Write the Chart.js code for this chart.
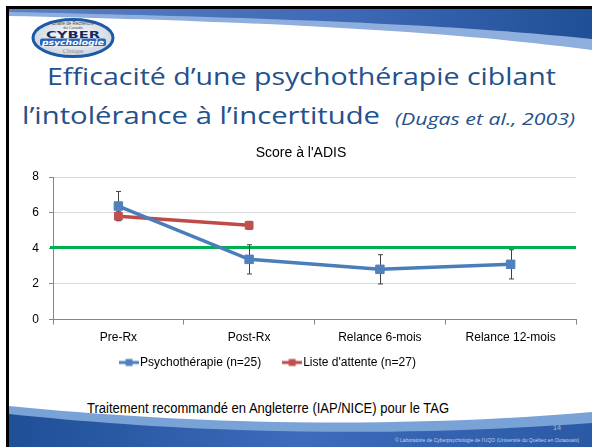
<!DOCTYPE html>
<html>
<head>
<meta charset="utf-8">
<script src="https://cdn.jsdelivr.net/npm/chart.js@4.4.1/dist/chart.umd.min.js"></script>
<style>
  html, body { margin: 0; padding: 0; background: #fff; }
  #slide { position: relative; width: 592px; height: 447px; overflow: hidden; background: #fff; }
  #deco { position: absolute; left: 0; top: 0; }
  #wrap { position: absolute; left: 0; top: 130px; width: 592px; height: 269px; }
</style>
</head>
<body>
<div id="slide">
  <svg id="deco" width="592" height="447" xmlns="http://www.w3.org/2000/svg">
    <defs>
      <linearGradient id="topDark" x1="0" y1="0" x2="1" y2="0">
        <stop offset="0" stop-color="#5b80c6"/>
        <stop offset="0.6" stop-color="#3d68b4"/>
        <stop offset="1" stop-color="#1f4f97"/>
      </linearGradient>
      <linearGradient id="botDark" x1="0" y1="0" x2="1" y2="0">
        <stop offset="0" stop-color="#1f4f97"/>
        <stop offset="0.5" stop-color="#3e6bbb"/>
        <stop offset="1" stop-color="#2a5aa6"/>
      </linearGradient>
      <radialGradient id="logoFill" cx="50%" cy="45%" r="60%">
        <stop offset="0" stop-color="#ffffff"/>
        <stop offset="1" stop-color="#c7d0de"/>
      </radialGradient>
    </defs>

    <!-- slide frame -->
    <rect x="6" y="6" width="586" height="3" fill="#000"/>
    <rect x="6" y="6" width="3" height="441" fill="#000"/>

    <!-- top swoosh -->
    <path d="M9,9 L592,9 L592,50 C470,34 300,22 9,16 Z" fill="#8eaedd"/>
    <path d="M9,9 L592,9 L592,39 C470,26 300,18 9,12 Z" fill="url(#topDark)"/>

    <!-- bottom swoosh -->
    <path d="M9,406 C150,420 360,432 592,412 L592,447 L9,447 Z" fill="#79a2d6"/>
    <path d="M9,414 C160,430 360,440 592,423 L592,447 L9,447 Z" fill="url(#botDark)"/>

    <!-- logo -->
    <ellipse cx="73" cy="38" rx="40" ry="18.5" fill="url(#logoFill)" stroke="#1d5aa6" stroke-width="3"/>
    <text x="73" y="25" font-family="Liberation Sans" font-size="4.5" fill="#4a4a4a" text-anchor="middle">Chaire de Recherche</text>
    <text x="73" y="29" font-family="Liberation Sans" font-size="4" fill="#4a4a4a" text-anchor="middle">du Canada</text>
    <text x="73" y="37.5" font-family="DejaVu Sans" font-weight="bold" font-size="9.5" fill="#17295c" text-anchor="middle" textLength="54" lengthAdjust="spacingAndGlyphs">CYBER</text>
    <rect x="40" y="38.5" width="66" height="7.5" rx="2" fill="#2c63b5"/>
    <text x="73" y="44.8" font-family="DejaVu Sans" font-style="italic" font-weight="bold" font-size="7.5" fill="#fff" text-anchor="middle" textLength="62" lengthAdjust="spacingAndGlyphs">psychologie</text>
    <text x="73" y="53" font-family="Liberation Serif" font-size="6" fill="#8a8a8a" text-anchor="middle">Clinique</text>

    <!-- slide title -->
    <text x="47" y="85" font-family="Open Sans" font-size="24" fill="#24508b" textLength="509" lengthAdjust="spacingAndGlyphs">Efficacité d’une psychothérapie ciblant</text>
    <text x="22" y="124" font-family="Open Sans" font-size="24" fill="#24508b" textLength="358" lengthAdjust="spacingAndGlyphs">l’intolérance à l’incertitude</text>
    <text x="395" y="125" font-family="Open Sans" font-style="italic" font-size="17" fill="#24508b" textLength="180" lengthAdjust="spacingAndGlyphs">(Dugas et al., 2003)</text>

    <!-- footer -->
    <text x="268" y="413" font-family="Liberation Sans" font-size="14" fill="#000" text-anchor="middle" textLength="362" lengthAdjust="spacingAndGlyphs">Traitement recommandé en Angleterre (IAP/NICE) pour le TAG</text>
    <text x="557" y="430" font-family="Liberation Sans" font-weight="bold" font-size="7" fill="#8fa3bd" text-anchor="middle">14</text>
    <text x="395" y="442" font-family="Liberation Sans" font-size="5" fill="#c2d3ec">© Laboratoire de Cyberpsychologie de l'UQO (Université du Québec en Outaouais)</text>
  </svg>
  <div id="wrap"><canvas id="adis"></canvas></div>
</div>

<script>
// values
const categories = ["Pre-Rx", "Post-Rx", "Relance 6-mois", "Relance 12-mois"];
const psychoScores = [6.37, 3.38, 2.82, 3.1];
const psychoErrors = [0.82, 0.82, 0.82, 0.82];
const waitScores = [5.8, 5.29, null, null];
const waitErrors = [0.25, 0.22, null, null];
const yTicks = [0, 2, 4, 6, 8];
const cutoff = 4.05; // green line (seuil clinique)

const BLUE_LINE = "#4a7ebb", BLUE_MARK = "#4f81bd";
const RED_LINE = "#be4b48", RED_MARK = "#c0504d";

Chart.defaults.font.family = '"Liberation Sans", Arial, sans-serif';
Chart.defaults.color = "#000";

// little line+square swatch, like the Excel legend
function legendMark(line, fill) {
  const c = document.createElement("canvas");
  c.width = 20;
  c.height = 10;
  const g = c.getContext("2d");
  g.fillStyle = line;
  g.fillRect(0, 3.5, 20, 3);
  g.fillStyle = fill;
  g.fillRect(6.5, 1.5, 7, 7);
  return c;
}
const marks = [legendMark(BLUE_LINE, BLUE_MARK), legendMark(RED_LINE, RED_MARK)];

const errorSets = [psychoErrors, waitErrors];

const extras = {
  id: "extras",
  afterLayout(chart) {
    // legend sits a bit left of centre and tight under the axis labels
    const lg = chart.legend;
    lg.left -= 31;
    lg.right -= 31;
    lg.top -= 20.5;
    lg.bottom -= 20.5;
  },
  beforeDatasetsDraw(chart) {
    const { ctx, chartArea, scales: { x, y } } = chart;
    ctx.save();
    // green threshold line
    const gy = y.getPixelForValue(cutoff);
    ctx.strokeStyle = "#00b050";
    ctx.lineWidth = 3;
    ctx.beginPath();
    ctx.moveTo(chartArea.left - 3, gy);
    ctx.lineTo(chartArea.right, gy);
    ctx.stroke();

    // error bars
    ctx.strokeStyle = "#404040";
    ctx.lineWidth = 1;
    chart.data.datasets.forEach((ds, di) => {
      ds.data.forEach((v, i) => {
        const e = errorSets[di][i];
        if (v == null || e == null) return;
        const px = Math.round(x.getPixelForValue(i)) + 0.5;
        const top = y.getPixelForValue(v + e);
        const bot = y.getPixelForValue(v - e);
        ctx.beginPath();
        ctx.moveTo(px, top);
        ctx.lineTo(px, bot);
        ctx.moveTo(px - 2.5, top);
        ctx.lineTo(px + 2.5, top);
        ctx.moveTo(px - 2.5, bot);
        ctx.lineTo(px + 2.5, bot);
        ctx.stroke();
      });
    });
    ctx.restore();
  },
};

new Chart(document.getElementById("adis"), {
  type: "line",
  data: {
    labels: categories,
    datasets: [
      {
        label: "Psychothérapie (n=25)",
        data: psychoScores,
        borderColor: BLUE_LINE,
        backgroundColor: BLUE_MARK,
        borderWidth: 3.5,
        pointStyle: "rect",
        pointRadius: 6,
        pointBackgroundColor: BLUE_MARK,
        pointBorderColor: BLUE_MARK,
        pointBorderWidth: 1,
      },
      {
        label: "Liste d'attente (n=27)",
        data: waitScores,
        borderColor: RED_LINE,
        backgroundColor: RED_MARK,
        borderWidth: 3.5,
        pointStyle: "rect",
        pointRadius: 5.5,
        pointBackgroundColor: RED_MARK,
        pointBorderColor: RED_MARK,
        pointBorderWidth: 1,
      },
    ],
  },
  options: {
    responsive: true,
    maintainAspectRatio: false,
    animation: false,
    layout: { padding: { left: 26, right: 16, top: 0, bottom: 0 } },
    plugins: {
      title: {
        display: true,
        text: "Score à l'ADIS",
        color: "#000",
        font: { size: 14, weight: "normal" },
        padding: { top: 15.1, bottom: 15.1 },
      },
      legend: {
        position: "bottom",
        labels: {
          usePointStyle: true,
          pointStyleWidth: 10,
          boxHeight: 10,
          padding: 26,
          color: "#000",
          font: { size: 12 },
          generateLabels(chart) {
            const items = Chart.defaults.plugins.legend.labels.generateLabels(chart);
            items.forEach((it, i) => { it.pointStyle = marks[i]; });
            return items;
          },
        },
      },
      tooltip: { enabled: false },
    },
    scales: {
      x: {
        offset: true,
        grid: {
          offset: true,
          drawOnChartArea: false,
          drawTicks: true,
          tickLength: 5,
          tickColor: "#868686",
        },
        border: { color: "#868686", width: 1 },
        ticks: { color: "#000", font: { size: 12 }, padding: 6, maxRotation: 0 },
      },
      y: {
        min: yTicks[0],
        max: yTicks[yTicks.length - 1],
        grid: { color: "#d9d9d9", tickColor: "#868686", tickLength: 4 },
        border: { color: "#868686", width: 1 },
        ticks: { stepSize: yTicks[1] - yTicks[0], color: "#000", font: { size: 12 }, padding: 10 },
        afterFit(scale) { scale.width = 27; },
      },
    },
  },
  plugins: [extras],
});
</script>
</body>
</html>
